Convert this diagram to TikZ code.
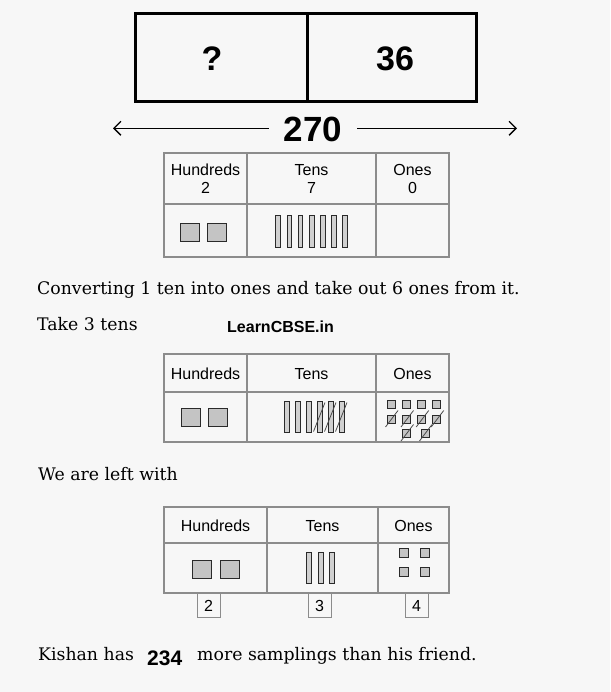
\documentclass[tikz,border=0pt]{standalone}
\usepackage{fontspec}
\usetikzlibrary{arrows.meta}
\newfontfamily\hv{Liberation Sans}
\newfontfamily\sch{DejaVu Serif}
\definecolor{bg}{HTML}{F7F7F7}
\definecolor{tl}{HTML}{8C8C8C}
\definecolor{sqf}{HTML}{C4C4C4}
\definecolor{rodf}{HTML}{D0D0D0}
\definecolor{ink}{HTML}{2A2A2A}
\newcommand\hsqat[2]{\draw[hsq] ({#1-9.5},{#2-9}) rectangle ({#1+9.5},{#2+9});}
\newcommand\rodat[3]{\draw[rod] ({#1-2.4},{#2}) rectangle ({#1+2.4},{#3});}
\newcommand\osqat[3]{\draw[osq] ({#1-#3},{#2-#3}) rectangle ({#1+#3},{#2+#3});}
\newcommand\oslashat[2]{\draw[slash] ({#1-5.5},{#2+8}) -- ({#1+7},{#2-8.5});}
\begin{document}
\begin{tikzpicture}[x=1pt,y=-1pt,
  tline/.style={draw=tl, line width=1.3pt},
  hsq/.style={draw=ink, fill=sqf, line width=0.9pt},
  rod/.style={draw=ink, fill=rodf, line width=0.8pt},
  osq/.style={draw=ink, fill=sqf, line width=0.8pt},
  slash/.style={draw=ink!85, line width=0.8pt},
  hdr/.style={font=\hv\fontsize{16}{19}\selectfont, inner sep=0pt, anchor=base},
  body/.style={font=\sch\fontsize{17.3}{21}\selectfont, inner sep=0pt, anchor=base west},
  big/.style={font=\hv\bfseries\fontsize{34}{40}\selectfont, inner sep=0pt, anchor=base},
  arr/.style={line width=1.3pt, -{Straight Barb[length=7pt,width=14pt]}}]
\fill[bg] (0,0) rectangle (610,692);
\useasboundingbox (0,0) rectangle (610,692);
% top bar
\draw[line width=3pt] (135,14) rectangle (476,102);
\draw[line width=3pt] (307,14) -- (307,102);
\node[big] (q) at (212,70.7) {?};
\node[big] (n36) at (395,70.7) {36};
\node[big, font=\hv\bfseries\fontsize{35}{40}\selectfont, inner xsep=15pt] (n270) at (313,141.7) {270};
\coordinate (al) at (113,128.3);
\coordinate (ar) at (517,128.3);
\draw[arr] (n270.west |- al) -- (al);
\draw[arr] (n270.east |- ar) -- (ar);
% table 1
\draw[tline] (164,153) rectangle (449,257);
\draw[tline] (164,204) -- (449,204);
\draw[tline] (247,153) -- (247,257);
\draw[tline] (376,153) -- (376,257);
\node[hdr] (h1) at (205.5,176) {Hundreds};
\node[hdr] (h1v) at (205.5,193.3) {2};
\node[hdr] (t1) at (311.5,176) {Tens};
\node[hdr] (t1v) at (311.5,193.3) {7};
\node[hdr] (o1) at (412.5,176) {Ones};
\node[hdr] (o1v) at (412.5,193.3) {0};
\hsqat{189.5}{232.5}
\hsqat{217}{232.5}
\foreach \i in {0,...,6} {\pgfmathsetmacro\rx{311.5+11.1*(\i-3)}\rodat{\rx}{215}{247}}
% text
\node[body] (l1) at (37,294.3) {Converting 1 ten into ones and take out 6 ones from it.};
\node[body] (l2) at (37,330) {Take 3 tens};
\node[font=\hv\bfseries\fontsize{16}{19}\selectfont, inner sep=0pt, anchor=base west] (wm) at (227,332.7) {LearnCBSE.in};
% table 2
\draw[tline] (164,354) rectangle (449,442);
\draw[tline] (164,392) -- (449,392);
\draw[tline] (247,354) -- (247,442);
\draw[tline] (376,354) -- (376,442);
\node[hdr] (h2) at (205.5,379) {Hundreds};
\node[hdr] (t2) at (311.5,379) {Tens};
\node[hdr] (o2) at (412.5,379) {Ones};
\hsqat{190.5}{417.5}
\hsqat{218}{417.5}
\foreach \i in {0,...,5} {\pgfmathsetmacro\rx{287+11*\i}\rodat{\rx}{401.5}{432.5}}
\foreach \i in {3,4,5} {\pgfmathsetmacro\rx{287+11*\i}\draw[slash] ({\rx-6.5},431.5) -- ({\rx+5},402.5);}
\foreach \x in {391,406.5,421.7,436.7} {\osqat{\x}{404}{4}}
\foreach \x in {391,406.5,421.7,436.7} {\osqat{\x}{419}{4}\oslashat{\x}{419}}
\foreach \x in {406.5,425} {\osqat{\x}{433}{4}\oslashat{\x}{433}}
% text
\node[body] (l3) at (38,480) {We are left with};
% table 3
\draw[tline] (164,507) rectangle (449,593);
\draw[tline] (164,543) -- (449,543);
\draw[tline] (267,507) -- (267,593);
\draw[tline] (378,507) -- (378,593);
\node[hdr] (h3) at (215.5,531) {Hundreds};
\node[hdr] (t3) at (322.5,531) {Tens};
\node[hdr] (o3) at (413.5,531) {Ones};
\hsqat{201.5}{569.5}
\hsqat{229.5}{569.5}
\foreach \x in {309,320.5,331.7} {\rodat{\x}{552}{583}}
\foreach \x in {404,425} {\osqat{\x}{553}{4.5}\osqat{\x}{572}{4.5}}
\draw[tline, line width=1pt] (197,593) rectangle (220,617);
\draw[tline, line width=1pt] (308,593) rectangle (331,617);
\draw[tline, line width=1pt] (405,593) rectangle (428,617);
\node[hdr] (d2) at (208.5,611.7) {2};
\node[hdr] (d3) at (319.5,611.7) {3};
\node[hdr] (d4) at (416.5,611.7) {4};
% last line
\node[body] (k1) at (38,660.7) {Kishan has};
\node[font=\hv\bfseries\fontsize{21}{24}\selectfont, inner sep=0pt, anchor=base west] (k2) at (147,665) {234};
\node[body] (k3) at (197,660.7) {more samplings than his friend.};
\end{tikzpicture}
\end{document}
